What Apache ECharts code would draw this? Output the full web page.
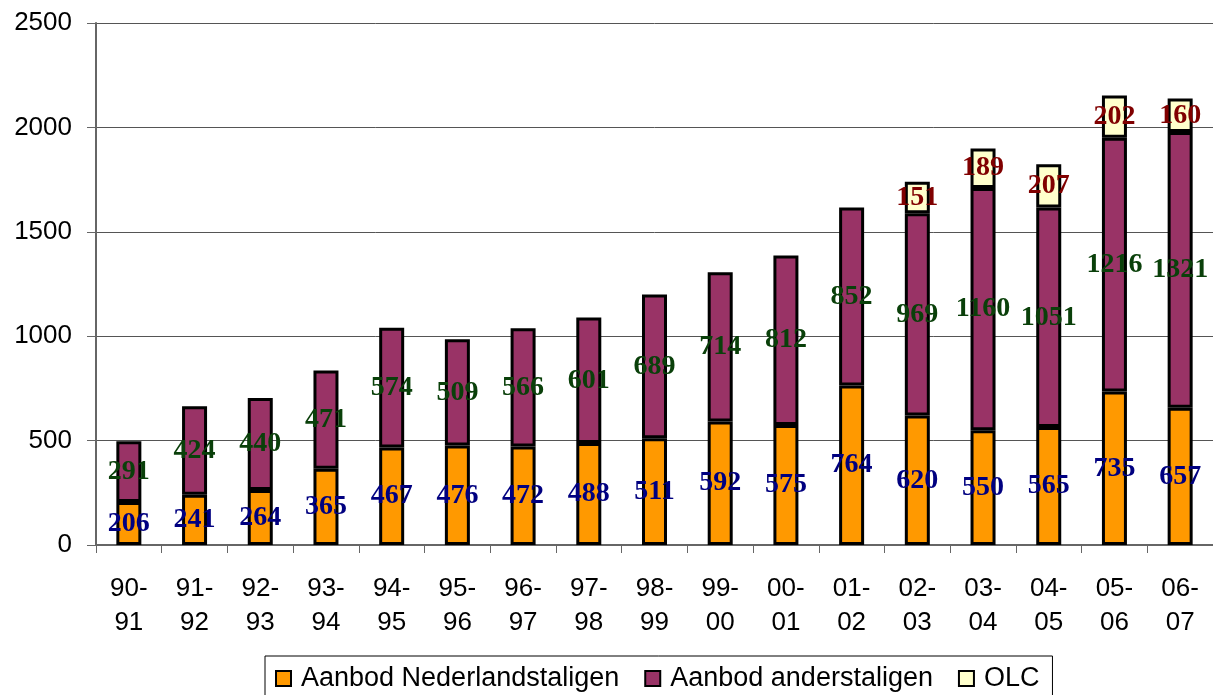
<!DOCTYPE html>
<html>
<head>
<meta charset="utf-8">
<script src="https://cdn.jsdelivr.net/npm/echarts@6/dist/echarts.min.js"></script>
<style>
html,body{margin:0;padding:0;background:#fff;}
#chart{width:1213px;height:695px;}
</style>
</head>
<body>
<div id="chart"></div>
<script>
var categories = ['90-\n91','91-\n92','92-\n93','93-\n94','94-\n95','95-\n96','96-\n97','97-\n98','98-\n99','99-\n00','00-\n01','01-\n02','02-\n03','03-\n04','04-\n05','05-\n06','06-\n07'];
var nederlandstaligen = [206,241,264,365,467,476,472,488,511,592,575,764,620,550,565,735,657];
var anderstaligen = [291,424,440,471,574,509,566,601,689,714,812,852,969,1160,1051,1216,1321];
var olc = [null,null,null,null,null,null,null,null,null,null,null,null,151,189,207,202,160];
var yTicks = [0,500,1000,1500,2000,2500];

var chart = echarts.init(document.getElementById('chart'));
function lbl(color){
  return {show:true, position:'inside', color:color, fontFamily:'Liberation Serif', fontWeight:'bold', fontSize:28, textBorderWidth:0};
}
chart.setOption({
  animation:false,
  backgroundColor:'#fff',
  grid:{left:96, top:23, width:1122, height:522, containLabel:false},
  legend:{
    left:265, top:656,
    data:['Aanbod Nederlandstaligen','Aanbod anderstaligen','OLC'],
    icon:'rect', itemWidth:15, itemHeight:15, itemGap:25,
    itemStyle:{borderWidth:2, borderColor:'#000'},
    borderColor:'#000', borderWidth:1, padding:[9,13,12,10],
    textStyle:{fontFamily:'Liberation Sans', fontSize:27, color:'#000', padding:[0,0,0,5]}
  },
  xAxis:{
    type:'category', data:categories, boundaryGap:true,
    axisLine:{lineStyle:{color:'#666', width:2}},
    axisTick:{show:true, length:8, lineStyle:{color:'#666', width:1}},
    axisLabel:{fontFamily:'Liberation Sans', fontSize:26, color:'#000', lineHeight:34, margin:27, interval:0}
  },
  yAxis:{
    type:'value', min:yTicks[0], max:yTicks[yTicks.length-1], interval:500,
    axisLine:{show:true, lineStyle:{color:'#666', width:2}},
    axisTick:{show:true, length:9, lineStyle:{color:'#666'}},
    axisLabel:{fontFamily:'Liberation Sans', fontSize:26, color:'#000', margin:24, formatter:function(v){return String(v);}},
    splitLine:{show:true, lineStyle:{color:'#555', width:1}}
  },
  series:[
    {name:'Aanbod Nederlandstaligen', type:'bar', stack:'a', barWidth:25, data:nederlandstaligen,
     itemStyle:{color:'#FF9900', borderColor:'#000', borderWidth:3}, label:lbl('#000080')},
    {name:'Aanbod anderstaligen', type:'bar', stack:'a', barWidth:25, data:anderstaligen,
     itemStyle:{color:'#993366', borderColor:'#000', borderWidth:3}, label:lbl('#0A400A')},
    {name:'OLC', type:'bar', stack:'a', barWidth:25, data:olc,
     itemStyle:{color:'#FFFFCC', borderColor:'#000', borderWidth:3}, label:lbl('#800000')}
  ]
});
</script>
</body>
</html>
